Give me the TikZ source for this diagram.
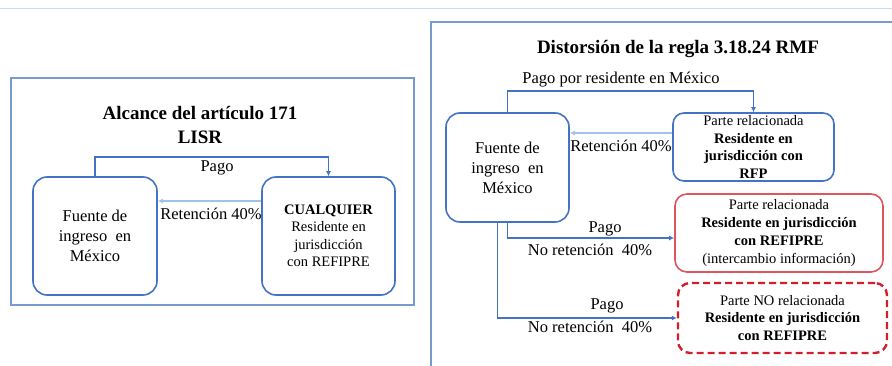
\documentclass[tikz,border=0pt]{standalone}
\usepackage{fontspec}
\setmainfont{Liberation Serif}
\usetikzlibrary{arrows.meta}
\definecolor{boxblue}{RGB}{68,114,196}
\definecolor{framecol}{RGB}{120,155,205}
\definecolor{retcol}{RGB}{160,195,230}
\definecolor{toplinecol}{RGB}{205,218,236}
\definecolor{redone}{RGB}{222,85,95}
\definecolor{redtwo}{RGB}{212,30,42}
\begin{document}
\begin{tikzpicture}[x=1pt,y=-1pt,
  bigbox/.style={draw=boxblue, line width=1.6pt, rounded corners=14pt, align=center,
    font=\fontsize{16.5}{20}\selectfont, inner sep=0pt},
  smallbox/.style={draw=boxblue, line width=1.6pt, rounded corners=11pt, align=center,
    font=\fontsize{14.5}{17.5}\selectfont, inner sep=0pt},
  redbox/.style={draw=redone, line width=1.6pt, rounded corners=12pt, align=center,
    font=\fontsize{14.5}{18}\selectfont, inner sep=0pt},
  reddash/.style={draw=redtwo, line width=2.4pt, rounded corners=12pt, align=center,
    dash pattern=on 7pt off 4pt, font=\fontsize{14.5}{17.5}\selectfont, inner sep=0pt},
  frame/.style={draw=framecol, line width=1.2pt},
  titletext/.style={font=\fontsize{19}{24}\selectfont\bfseries, align=center, inner sep=0pt},
  lbl/.style={font=\fontsize{16.5}{20}\selectfont, inner sep=0pt},
  arr/.style={draw=boxblue, line width=1.3pt, -{Latex[length=5pt,width=5pt]}},
  retarr/.style={draw=retcol, line width=1.6pt, -{Latex[length=5pt,width=5pt]}}
]
\useasboundingbox (0,0) rectangle (892,366);
% top thin line
\draw[toplinecol, line width=1pt] (0,9) -- (892,9);

% ---------- left panel ----------
\node[frame, minimum width=403pt, minimum height=227pt, inner sep=0pt] (frameL) at (212.5,191.5) {};
\node[titletext] (titleL) at (200,125) {Alcance del artículo 171\\LISR};
\node[bigbox, minimum width=124pt, minimum height=118pt] (fuenteL) at (95,236)
  {Fuente de\\ingreso\ \ en\\México};
\node[bigbox, minimum width=133pt, minimum height=118pt, font=\fontsize{14.5}{17.5}\selectfont] (cualq) at (328.5,236)
  {\textbf{CUALQUIER}\\Residente en\\jurisdicción\\con REFIPRE};
\coordinate (pagoL) at (212,157);
\draw[arr] (fuenteL.north) |- (pagoL) -| (cualq.north);
\node[lbl] (lpagoL) at (217,168) {Pago};
\coordinate (retL) at (0,201);
\draw[retarr] (cualq.west |- retL) -- (fuenteL.east |- retL);
\node[lbl] (lretL) at (211,214) {Retención 40\%};

% ---------- right panel ----------
\coordinate (fr1) at (431,366);
\coordinate (fr2) at (431,22);
\coordinate (fr3) at (892,22);
\draw[frame] (fr1) -- (fr2) -- (fr3);
\node[titletext] (titleR) at (678,49) {Distorsión de la regla 3.18.24 RMF};
\node[bigbox, minimum width=123pt, minimum height=109pt] (fuenteR) at (507.5,167.5)
  {Fuente de\\ingreso\ \ en\\México};
\node[smallbox, minimum width=161pt, minimum height=68pt] (rfp) at (753.5,147)
  {Parte relacionada\\\textbf{Residente en}\\\textbf{jurisdicción con}\\\textbf{RFP}};
\node[redbox, minimum width=208pt, minimum height=78pt] (ref1) at (779,233)
  {Parte relacionada\\\textbf{Residente en jurisdicción}\\\textbf{con REFIPRE}\\(intercambio\ información)};
\node[reddash, minimum width=209pt, minimum height=70pt] (ref2) at (782.5,318)
  {Parte NO relacionada\\\textbf{Residente en jurisdicción}\\\textbf{con REFIPRE}};

\coordinate (pagoR) at (630,91);
\draw[arr] (fuenteR.north) |- (pagoR) -| (rfp.north);
\node[lbl] (lpagoR) at (621,80) {Pago por residente en México};
\coordinate (retR) at (0,133);
\draw[retarr] (rfp.west |- retR) -- (fuenteR.east |- retR);
\node[lbl] (lretR) at (621,146) {Retención 40\%};

\coordinate (a1) at (0,238);
\draw[arr] (fuenteR.south) |- (ref1.west |- a1);
\node[lbl] (lpago1) at (605,229) {Pago};
\node[lbl] (lnoret1) at (590,250) {No retención\ \ 40\%};

\draw[arr] ([xshift=-10pt]fuenteR.south) |- (ref2.west);
\node[lbl] (lpago2) at (607,306) {Pago};
\node[lbl] (lnoret2) at (590,327) {No retención\ \ 40\%};
\end{tikzpicture}
\end{document}
